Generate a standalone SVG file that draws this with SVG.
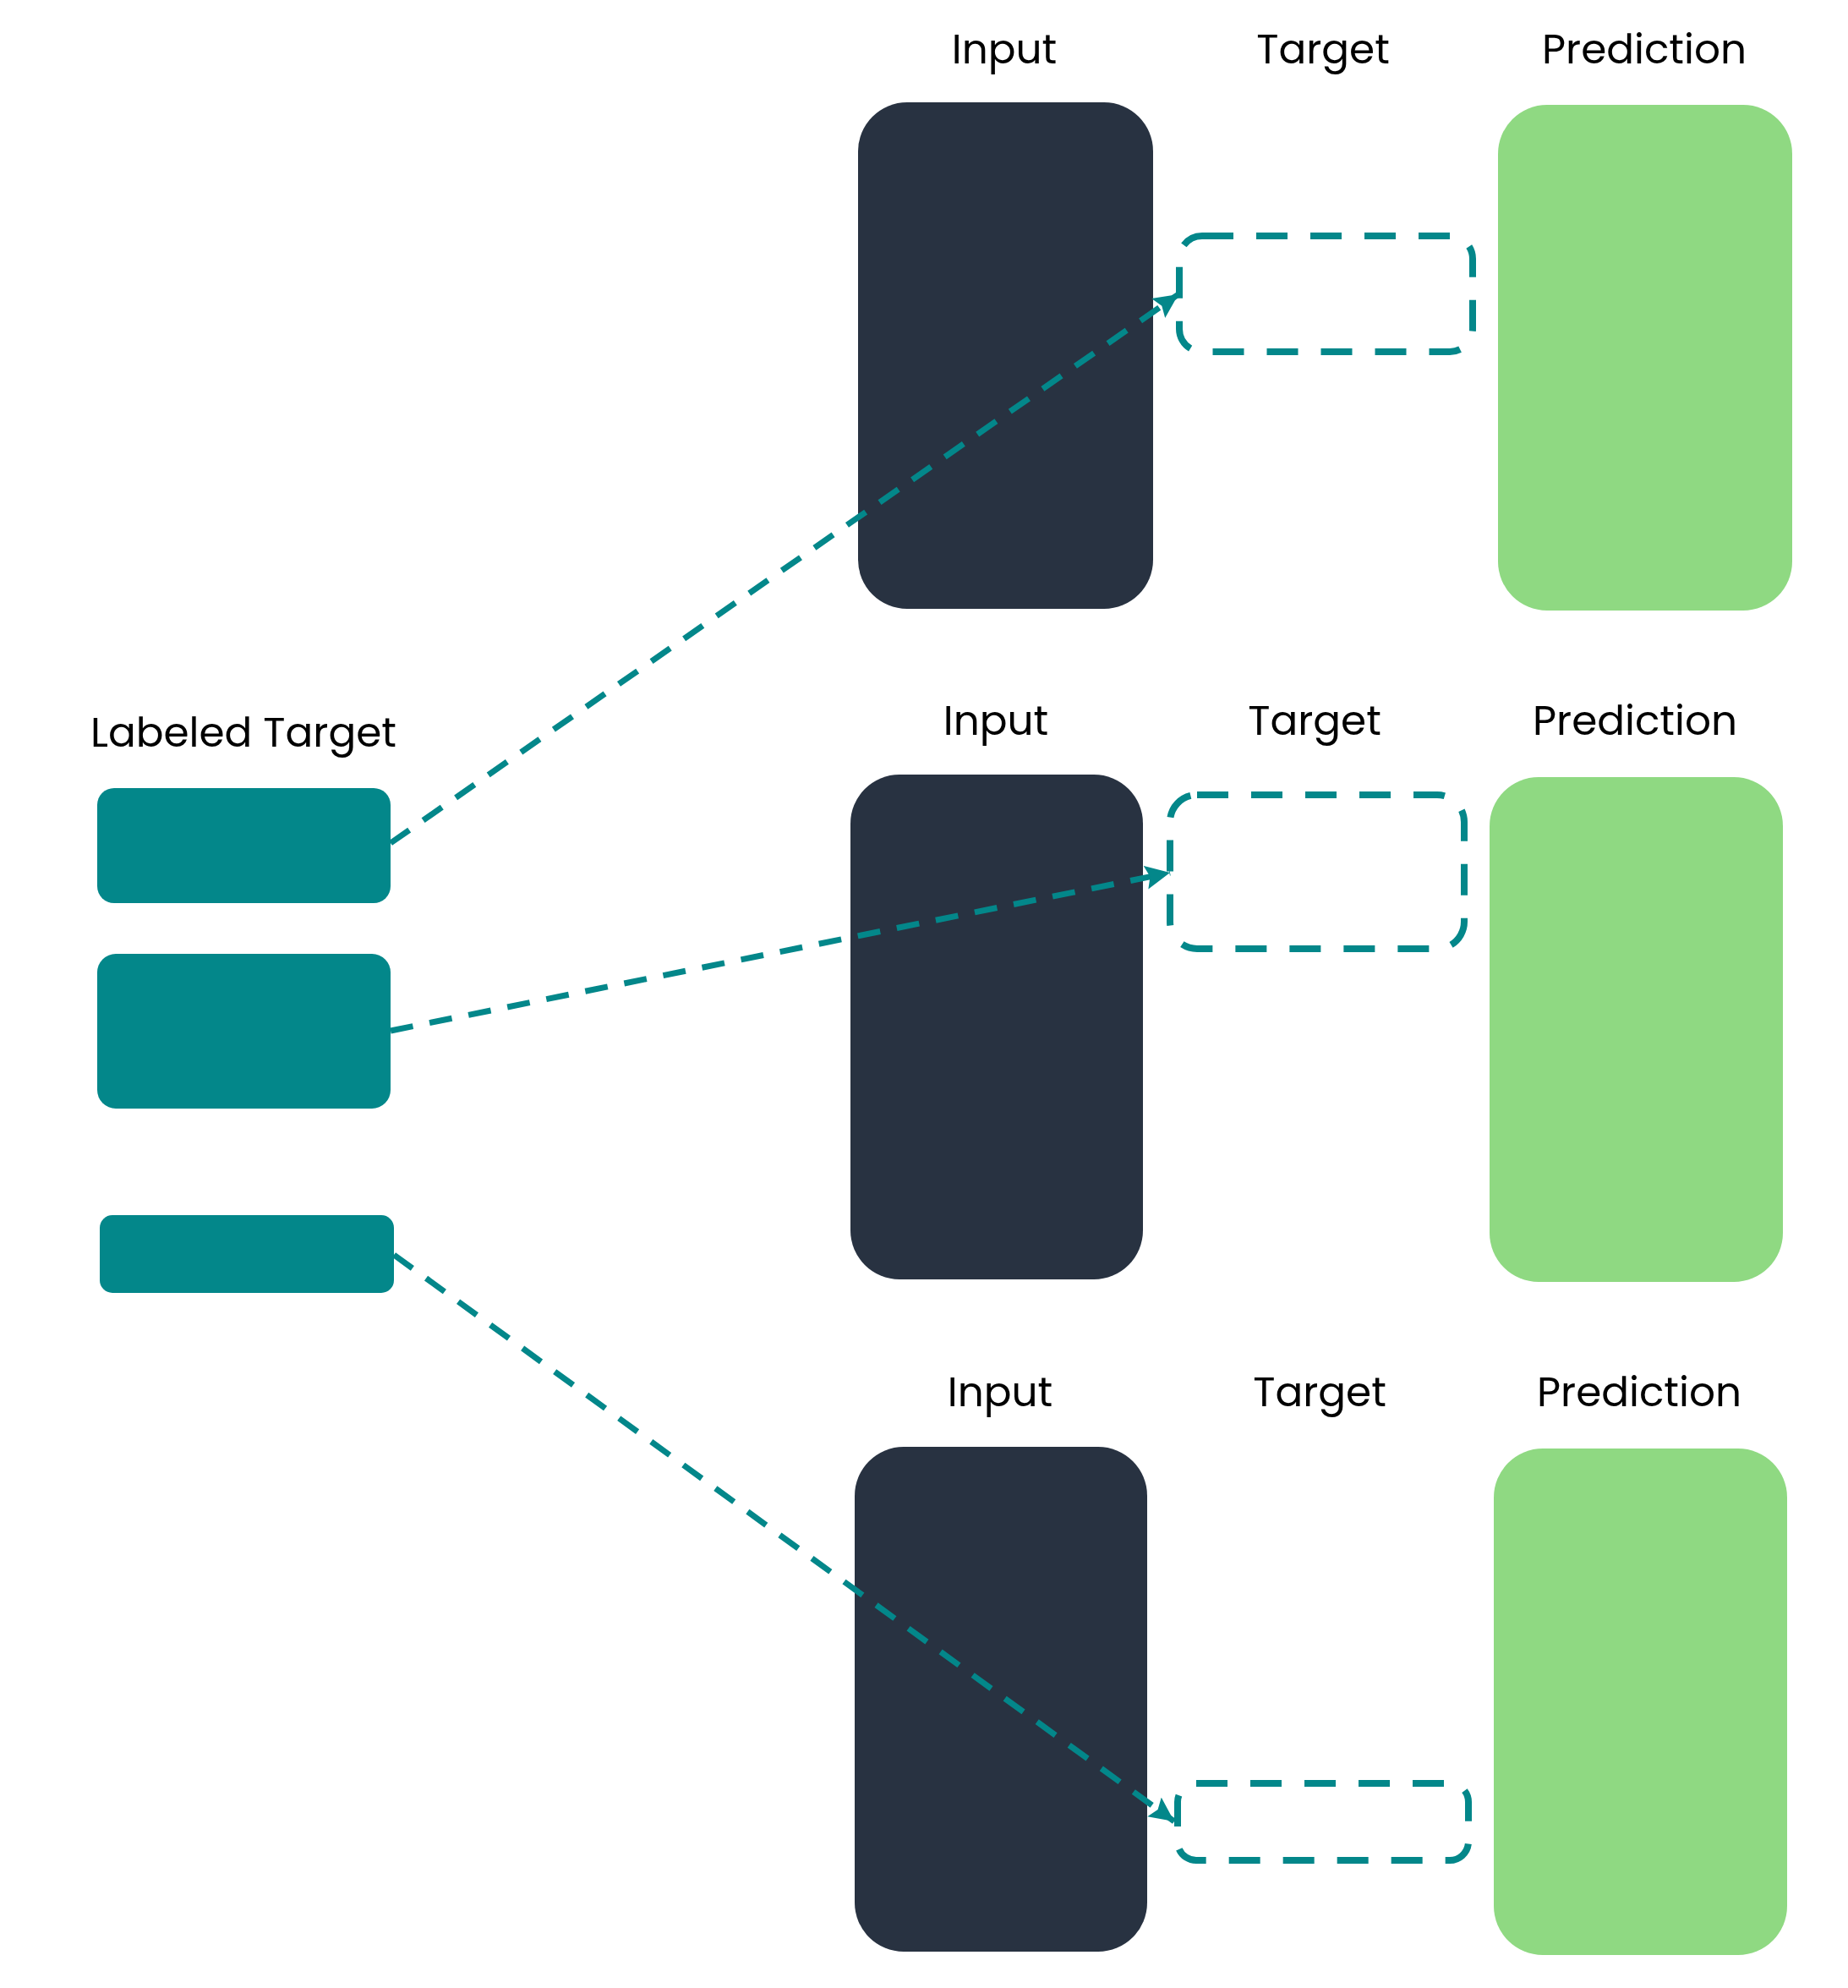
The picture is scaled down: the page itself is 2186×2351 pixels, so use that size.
<svg xmlns="http://www.w3.org/2000/svg" width="2186" height="2351" viewBox="0 0 2186 2351">
<style>
.lbl{font-family:Poppins,Inter,"Liberation Sans",sans-serif;font-size:48.5px;fill:#000;text-anchor:middle}
.inp{fill:#283241}
.pred{fill:#8FD982}
.lt{fill:#03878A}
.tgt{fill:none;stroke:#03878A;stroke-width:8;stroke-dasharray:37 27}
.conn{fill:none;stroke:#03878A;stroke-width:7;stroke-dasharray:27 20}
</style>
<defs>
<marker id="arr" markerUnits="userSpaceOnUse" markerWidth="32" markerHeight="30" refX="29" refY="14" orient="auto">
<path d="M0,0 L29,14 L0,28 L5,14 Z" fill="#03878A"/>
</marker>
</defs>
<rect width="2186" height="2351" fill="#fff"/>
<g id="labeled-target">
<text class="lbl" x="288" y="883">Labeled Target</text>
<rect id="lt1" class="lt" x="115" y="932" width="347" height="136" rx="20"/>
<rect id="lt2" class="lt" x="115" y="1128" width="347" height="183" rx="22"/>
<rect id="lt3" class="lt" x="118" y="1437" width="348" height="92" rx="15"/>
</g>
<g id="row1">
<text class="lbl" x="1188" y="75">Input</text>
<text class="lbl" x="1565" y="75">Target</text>
<text class="lbl" x="1945" y="75">Prediction</text>
<rect id="input1" class="inp" x="1015" y="121" width="349" height="599" rx="58"/>
<rect id="target1" class="tgt" x="1395" y="279" width="347" height="137" rx="27"/>
<rect id="pred1" class="pred" x="1772" y="124" width="348" height="598" rx="58"/>
</g>
<g id="row2">
<text class="lbl" x="1178" y="869">Input</text>
<text class="lbl" x="1555" y="869">Target</text>
<text class="lbl" x="1934" y="869">Prediction</text>
<rect id="input2" class="inp" x="1006" y="916" width="346" height="597" rx="58"/>
<rect id="target2" class="tgt" x="1384" y="940" width="348" height="182" rx="32"/>
<rect id="pred2" class="pred" x="1762" y="919" width="347" height="597" rx="58"/>
</g>
<g id="row3">
<text class="lbl" x="1183" y="1663">Input</text>
<text class="lbl" x="1561" y="1663">Target</text>
<text class="lbl" x="1939" y="1663">Prediction</text>
<rect id="input3" class="inp" x="1011" y="1711" width="346" height="597" rx="58"/>
<rect id="target3" class="tgt" x="1393" y="2109" width="344" height="91" rx="22"/>
<rect id="pred3" class="pred" x="1767" y="1713" width="347" height="599" rx="58"/>
</g>
<g id="connectors">
<path class="conn" d="M462,997 L1394,348" marker-end="url(#arr)"/>
<path class="conn" d="M462,1219 L1384,1032" marker-end="url(#arr)"/>
<path class="conn" d="M466,1484 L1389,2154" marker-end="url(#arr)"/>
</g>
</svg>
